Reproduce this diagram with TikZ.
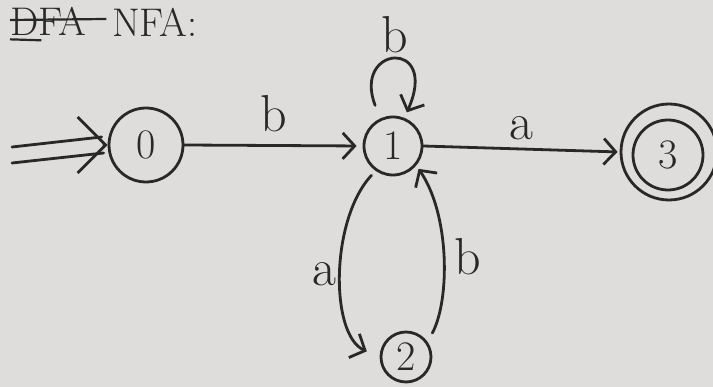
\documentclass[tikz,border=0pt]{standalone}
\usetikzlibrary{arrows.meta}
\definecolor{paper}{RGB}{222,221,219}
\definecolor{ink}{RGB}{40,40,40}
\begin{document}
\begin{tikzpicture}[x=1pt,y=-1pt,
  state/.style={circle,draw=ink,line width=2.8pt,inner sep=0pt,text=ink,font=\fontsize{42}{46}\selectfont},
  edge/.style={draw=ink,line width=2.8pt,line cap=round,-{Straight Barb[length=12pt,width=26pt,line width=2.8pt]}},
  plain/.style={draw=ink,line width=2.8pt,line cap=round},
  lbl/.style={text=ink,font=\fontsize{52}{56}\selectfont,inner sep=0pt},
  ttl/.style={text=ink,font=\fontsize{40}{44}\selectfont,inner sep=0pt}]
\fill[paper] (0,0) rectangle (713,387);
\useasboundingbox (0,0) rectangle (713,387);
% title
\node[ttl,anchor=west] (t1) at (10,21) {DFA};
\node[ttl,anchor=west] (t2) at (112,22) {NFA:};
\draw[ink,line width=2.2pt] ([yshift=1pt]t1.west) -- ([xshift=20pt,yshift=2pt]t1.east);
\draw[ink,line width=2.2pt] ([yshift=-4pt]t1.south west) -- ([yshift=-5pt,xshift=-45pt]t1.south east);
% states
\node[state,minimum width=74pt,minimum height=68pt] (n0) at (146,145) {0};
\node[state,minimum size=58pt] (n1) at (393,146) {1};
\node[state,minimum size=50pt] (n2) at (406,357) {2};
\node[state,minimum width=66pt,minimum height=70pt] (n3) at (668,155) {3};
\node[state,minimum width=84pt,minimum height=96pt] (n3o) at (669,152) {};
% start arrow
\coordinate (s) at (12,155);
\draw[plain] ([yshift=-8pt]s) -- ([yshift=-8pt,xshift=-4pt]n0.west);
\draw[plain] ([yshift=8pt]s) -- ([yshift=8pt,xshift=-6pt]n0.west);
\draw[plain,-{Straight Barb[length=28pt,width=56pt,line width=2.8pt]}] ([xshift=-4pt]n0.west) -- (n0.west);
% transitions
\draw[edge,shorten >=6pt] (n0.east) -- node[lbl,above=12pt] (lb01) {b} (n1.west);
\draw[edge,shorten >=2pt] (n1.east) -- node[lbl,above=8pt] (la13) {a} (n3o.west);
\draw[edge,shorten <=14pt,shorten >=6pt] (n1.115) .. controls (352,45) and (440,38) .. node[lbl,above=6pt,pos=0.5] (lb11) {b} (n1.68);
\draw[edge,shorten <=6pt,shorten >=14pt] (n1.235) .. controls (330,220) and (330,335) .. node[lbl,left=4pt,pos=0.5] (la12) {a} (n2.west);
\draw[edge,shorten <=10pt,shorten >=4pt] (n2.35) .. controls (450,300) and (450,215) .. node[lbl,right=10pt,pos=0.5] (lb21) {b} (n1.-40);
\end{tikzpicture}
\end{document}
